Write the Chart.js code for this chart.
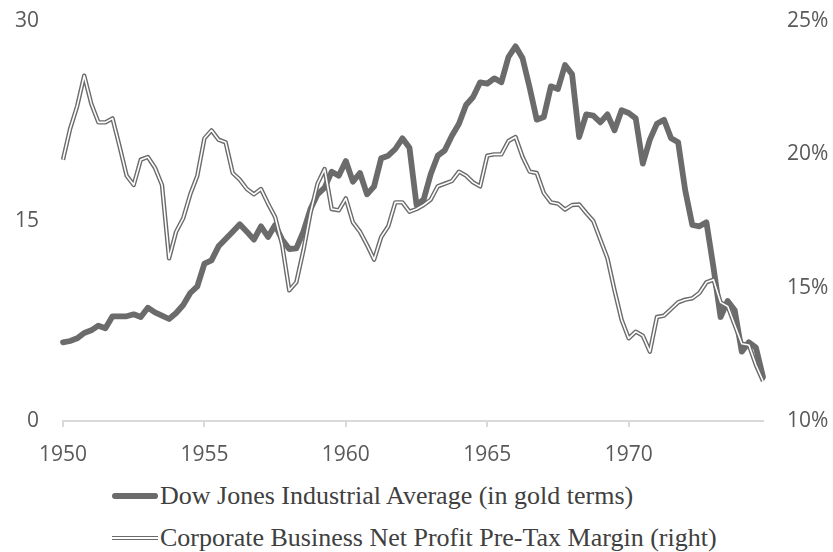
<!DOCTYPE html>
<html>
<head>
<meta charset="utf-8">
<script src="https://cdn.jsdelivr.net/npm/chart.js@4"></script>
<style>
  body { margin: 0; background: #fff; }
  #wrap { position: relative; width: 833px; height: 471px; }
  #legend { position: absolute; left: 112px; top: 475px; font-family: "Liberation Serif", "Times New Roman", serif; font-size: 26px; color: #404040; }
  .row { display: flex; align-items: center; height: 42px; }
  .sw { width: 46px; margin-right: 2px; }
  .thick { height: 6px; background: #6b6b6b; border-radius: 3px; }
  .double { height: 1.6px; border-top: 1.5px solid #6b6b6b; border-bottom: 1.5px solid #6b6b6b; background: #fff; }
</style>
</head>
<body>
<div id="wrap"><canvas id="chart"></canvas></div>
<div id="legend">
  <div class="row"><div class="sw thick"></div><span>Dow Jones Industrial Average (in gold terms)</span></div>
  <div class="row"><div class="sw double"></div><span>Corporate Business Net Profit Pre-Tax Margin (right)</span></div>
</div>
<script>
// quarterly observations, 1950 Q1 .. 1974 Q4
const years = [];
for (let y = 1950; y <= 1974; y++) years.push(y);
const quarters = [];
years.forEach(y => ['Q1', 'Q2', 'Q3', 'Q4'].forEach(q => quarters.push(y + ' ' + q)));

const dowGold = [
  5.9, 6.0, 6.2, 6.6, 6.8, 7.15, 6.95, 7.85, 7.85, 7.85,
  8.0, 7.8, 8.5, 8.15, 7.9, 7.65, 8.1, 8.7, 9.6, 10.1,
  11.8, 12.05, 13.1, 13.65, 14.2, 14.75, 14.2, 13.6, 14.6, 13.8,
  14.7, 13.6, 12.9, 12.95, 14.2, 15.9, 17.0, 17.5, 18.7, 18.4,
  19.5, 17.95, 18.6, 17.0, 17.6, 19.7, 19.9, 20.4, 21.2, 20.5,
  16.2, 16.6, 18.5, 19.9, 20.3, 21.4, 22.3, 23.7, 24.3, 25.4,
  25.3, 25.7, 25.4, 27.3, 28.1, 27.2, 25.0, 22.6, 22.8, 25.1,
  24.9, 26.7, 26.0, 21.3, 23.0, 22.9, 22.4, 23.0, 21.8, 23.3,
  23.1, 22.7, 19.3, 21.1, 22.3, 22.6, 21.2, 20.9, 17.3, 14.7,
  14.6, 14.9, 11.5, 7.8, 9.0, 8.3, 5.2, 5.9, 5.5, 3.3
];

const profitMargin = [
  19.8, 20.95, 21.8, 22.95, 21.9, 21.2, 21.2, 21.35, 20.3, 19.2,
  18.85, 19.8, 19.9, 19.5, 18.85, 16.1, 17.1, 17.6, 18.5, 19.2,
  20.6, 20.9, 20.55, 20.45, 19.3, 19.05, 18.7, 18.5, 18.7, 18.15,
  17.65, 16.6, 14.9, 15.2, 16.4, 17.8, 18.9, 19.45, 17.95, 17.9,
  18.35, 17.45, 17.1, 16.6, 16.05, 16.9, 17.3, 18.2, 18.2, 17.85,
  17.95, 18.1, 18.3, 18.8, 18.9, 19.0, 19.35, 19.2, 18.95, 18.8,
  19.95, 20.0, 20.0, 20.5, 20.65, 19.9, 19.35, 19.3, 18.55, 18.2,
  18.15, 17.93, 18.1, 18.12, 17.8, 17.5, 16.8, 16.1, 14.9, 13.8,
  13.1, 13.35, 13.2, 12.6, 13.9, 13.95, 14.2, 14.45, 14.55, 14.6,
  14.8, 15.2, 15.3, 14.45, 14.3, 13.6, 12.9, 12.85, 12.1, 11.5
];

const leftTicks = [0, 15, 30];
const rightTicks = [10, 15, 20, 25];

const grey = '#6b6b6b';
const tickFont = { family: '"Open Sans", sans-serif', size: 21 };

// drop the automatic label padding so the plot area sits where the layout says
const noPad = s => { s.paddingTop = 0; s.paddingBottom = 0; s.paddingLeft = 0; s.paddingRight = 0; };

new Chart(document.getElementById('chart').getContext('2d'), {
    type: 'line',
    data: {
        labels: quarters,
        datasets: [
            {
                label: 'Corporate Business Net Profit Pre-Tax Margin (right) inner',
                data: profitMargin,
                yAxisID: 'yRight',
                borderColor: '#ffffff',
                borderWidth: 1.6,
                pointRadius: 0,
                tension: 0,
                borderJoinStyle: 'round',
                order: 0
            },
            {
                label: 'Corporate Business Net Profit Pre-Tax Margin (right)',
                data: profitMargin,
                yAxisID: 'yRight',
                borderColor: grey,
                borderWidth: 4.4,
                pointRadius: 0,
                tension: 0,
                borderJoinStyle: 'round',
                order: 1
            },
            {
                label: 'Dow Jones Industrial Average (in gold terms)',
                data: dowGold,
                yAxisID: 'yLeft',
                borderColor: grey,
                borderWidth: 5.8,
                pointRadius: 0,
                tension: 0,
                borderJoinStyle: 'round',
                borderCapStyle: 'round',
                order: 2
            }
        ]
    },
    options: {
        responsive: true,
        maintainAspectRatio: false,
        animation: false,
        layout: { padding: { top: 21, left: 0, right: 0, bottom: 0 } },
        plugins: {
            legend: { display: false },
            tooltip: { enabled: false }
        },
        scales: {
            x: {
                type: 'category',
                offset: false,
                grid: { drawOnChartArea: false, drawTicks: true, tickLength: 6, color: '#d9d9d9', lineWidth: 2 },
                border: { color: '#d9d9d9', width: 2 },
                ticks: {
                    autoSkip: false,
                    maxRotation: 0,
                    padding: 15,
                    color: '#595959',
                    font: tickFont,
                    callback: (v, i) => (i % 20 === 0 ? quarters[i].slice(0, 4) : null)
                },
                afterFit: s => { s.height = 50; noPad(s); }
            },
            yLeft: {
                position: 'left',
                min: 0,
                max: 30,
                afterBuildTicks: s => { s.ticks = leftTicks.map(v => ({ value: v })); },
                grid: { display: false, drawTicks: false },
                border: { display: false },
                ticks: { color: '#595959', font: tickFont, padding: 24 },
                afterFit: s => { s.width = 63; noPad(s); }
            },
            yRight: {
                position: 'right',
                min: 10,
                max: 25,
                afterBuildTicks: s => { s.ticks = rightTicks.map(v => ({ value: v })); },
                grid: { display: false, drawTicks: false },
                border: { display: false },
                ticks: { color: '#595959', font: tickFont, padding: 24, callback: v => v + '%' },
                afterFit: s => { s.width = 70; noPad(s); }
            }
        }
    }
});
</script>
</body>
</html>
